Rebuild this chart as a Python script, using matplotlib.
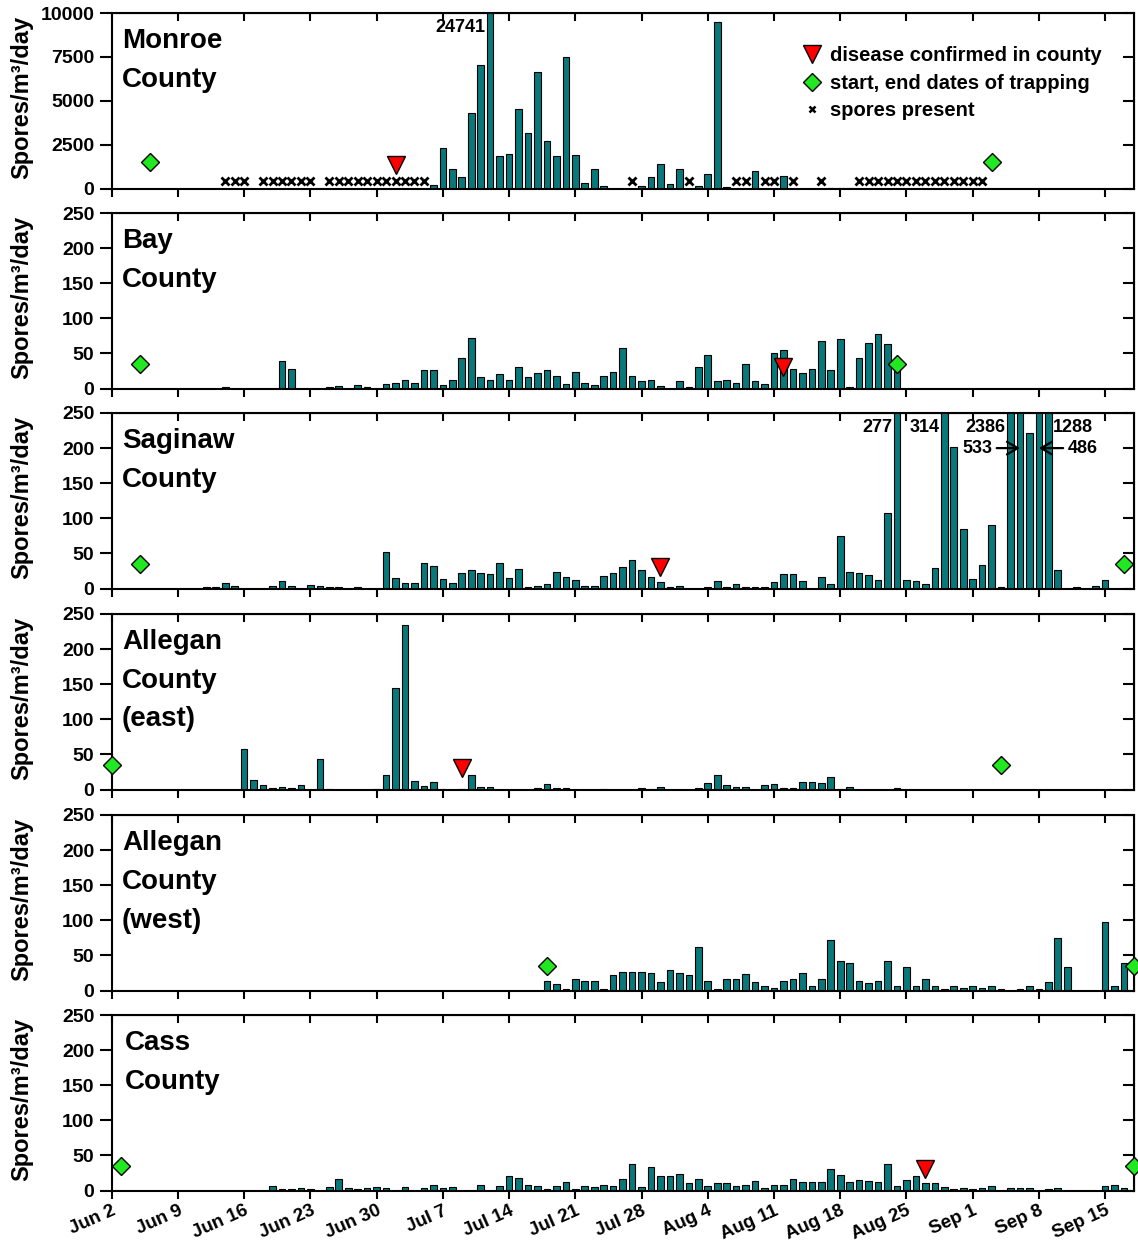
import matplotlib
matplotlib.use("Agg")
import matplotlib.pyplot as plt
from matplotlib.lines import Line2D
from matplotlib.ticker import NullFormatter

plt.rcParams['font.family'] = ['Liberation Sans', 'DejaVu Sans']
plt.rcParams['font.weight'] = 'bold'

# x axis: day number counted from Jun 2
tick_labels = ['Jun 2', 'Jun 9', 'Jun 16', 'Jun 23', 'Jun 30', 'Jul 7', 'Jul 14', 'Jul 21',
               'Jul 28', 'Aug 4', 'Aug 11', 'Aug 18', 'Aug 25', 'Sep 1', 'Sep 8', 'Sep 15']
tick_days = [7 * i for i in range(len(tick_labels))]

# Monroe County
monroe_days = [34, 35, 36, 37, 38, 39, 40, 41, 42, 43, 44, 45, 46, 47, 48, 49, 50, 51, 52,
               56, 57, 58, 59, 60, 62, 63, 64, 65, 68, 71, 76, 77, 78]
monroe_spores = [190, 2290, 1100, 670, 4290, 7010, 24741, 1870, 1940, 4530, 3180, 6610, 2700,
                 1870, 7490, 1900, 290, 1120, 130,
                 130, 670, 1390, 250, 1100, 170, 800, 9470, 60, 1010, 700, 50, 50, 50]
monroe_present = [12, 13, 14, 16, 17, 18, 19, 20, 21, 23, 24, 25, 26, 27, 28, 29, 30, 31, 32, 33,
                  55, 61, 66, 67, 69, 70, 72, 75,
                  79, 80, 81, 82, 83, 84, 85, 86, 87, 88, 89, 90, 91, 92]
monroe_trap = [4, 93]
monroe_disease = [30]

# Bay County
bay_days = [12, 18, 19, 23, 24, 26, 27, 29, 30, 31, 32, 33, 34, 35, 36, 37, 38, 39, 40, 41, 42,
            43, 44, 45, 46, 47, 48, 49, 50, 51, 52, 53, 54, 55, 56, 57, 58, 60, 61, 62, 63, 64,
            65, 66, 67, 68, 69, 70, 71, 72, 73, 74, 75, 76, 77, 78, 79, 80, 81, 82, 83]
bay_spores = [2, 39, 28, 2, 3, 5, 2, 7, 8, 12, 8, 27, 27, 5, 12, 43, 72, 17, 12, 20, 12,
              30, 17, 22, 27, 18, 7, 24, 8, 5, 18, 24, 57, 18, 10, 12, 4, 10, 2, 30, 48, 10,
              12, 8, 35, 10, 7, 50, 55, 28, 22, 28, 67, 27, 70, 2, 43, 65, 78, 64, 27]
bay_trap = [3, 83]
bay_disease = [71]

# Saginaw County
saginaw_days = [10, 11, 12, 13, 17, 18, 19, 21, 22, 23, 24, 26, 29, 30, 31, 32, 33, 34, 35, 36,
                37, 38, 39, 40, 41, 42, 43, 44, 45, 46, 47, 48, 49, 50, 51, 52, 53, 54, 55, 56,
                57, 58, 59, 60, 63, 64, 65, 66, 67, 68, 69, 70, 71, 72, 73, 75, 76, 77, 78, 79,
                80, 81, 82, 83, 84, 85, 86, 87, 88, 89, 90, 91, 92, 93, 94, 95, 96, 97, 98, 99,
                100, 102, 104, 105]
saginaw_spores = [2, 2, 8, 3, 3, 10, 4, 5, 4, 2, 2, 2, 52, 15, 8, 8, 37, 32, 13, 8,
                  22, 27, 22, 20, 37, 15, 28, 2, 4, 7, 23, 17, 12, 3, 3, 18, 22, 31, 41, 26,
                  17, 9, 2, 4, 2, 11, 2, 7, 2, 2, 2, 9, 21, 21, 11, 16, 6, 75, 24, 22,
                  19, 12, 108, 277, 12, 11, 7, 29, 314, 201, 85, 14, 34, 90, 2, 2386, 533, 222, 486, 1288,
                  27, 2, 4, 12]
saginaw_trap = [3, 107]
saginaw_disease = [58]

# Allegan County (east)
allegan_e_days = [14, 15, 16, 17, 18, 19, 20, 22, 23, 28, 29, 30, 31, 32, 33, 34, 35, 37, 38, 39,
                  40, 45, 46, 47, 48, 52, 56, 57, 58, 62, 63, 64, 65, 66, 67, 69, 70, 71, 72, 73,
                  74, 75, 76, 77, 78, 83]
allegan_e_spores = [58, 14, 7, 2, 3, 2, 7, 43, 1, 1, 20, 145, 235, 12, 5, 10, 1, 1, 20, 3,
                    3, 2, 8, 2, 2, 1, 2, 1, 4, 2, 9, 20, 6, 4, 4, 6, 8, 2, 2, 11,
                    11, 9, 18, 1, 4, 2]
allegan_e_trap = [0, 94]
allegan_e_disease = [37]

# Allegan County (west)
allegan_w_days = [46, 47, 48, 49, 50, 51, 52, 53, 54, 55, 56, 57, 58, 59, 60, 61, 62, 63, 64, 65,
                  66, 67, 68, 69, 70, 71, 72, 73, 74, 75, 76, 77, 78, 79, 80, 81, 82, 83, 84, 85,
                  86, 87, 88, 89, 90, 91, 92, 93, 94, 96, 97, 98, 99, 100, 101, 105, 106, 107]
allegan_w_spores = [13, 9, 2, 17, 13, 13, 2, 22, 26, 26, 26, 25, 12, 29, 25, 22, 62, 14, 2, 17,
                    16, 23, 12, 7, 4, 14, 17, 25, 7, 17, 72, 42, 39, 14, 10, 14, 42, 7, 33, 7,
                    17, 7, 2, 7, 3, 6, 4, 6, 2, 2, 7, 2, 12, 75, 33, 97, 7, 39]
allegan_w_trap = [46, 108]
allegan_w_disease = []

# Cass County
cass_days = [17, 18, 19, 20, 21, 23, 24, 25, 26, 27, 28, 29, 31, 33, 34, 35, 36, 39, 41, 42,
             43, 44, 45, 46, 47, 48, 49, 50, 51, 52, 53, 54, 55, 56, 57, 58, 59, 60, 61, 62,
             63, 64, 65, 66, 67, 68, 69, 70, 71, 72, 73, 74, 75, 76, 77, 78, 79, 80, 81, 82,
             83, 84, 85, 86, 87, 88, 89, 90, 91, 92, 93, 95, 96, 97, 99, 100, 105, 106, 107]
cass_spores = [7, 2, 2, 3, 2, 5, 16, 3, 2, 3, 5, 3, 5, 3, 8, 3, 5, 8, 7, 20,
               18, 8, 7, 2, 7, 12, 2, 7, 5, 8, 7, 17, 38, 5, 33, 20, 20, 23, 10, 17,
               7, 10, 10, 7, 8, 13, 3, 8, 8, 17, 12, 12, 12, 31, 22, 12, 15, 13, 12, 38,
               7, 15, 20, 10, 10, 5, 2, 3, 2, 3, 7, 3, 3, 3, 2, 3, 7, 8, 3]
cass_trap = [1, 108]
cass_disease = [86]

# off-scale values written on the Saginaw / Monroe panels: (day, where the label goes)
offscale_labels = {
    'Monroe': {40: 'left'},
    'Saginaw': {83: 'left', 88: 'left', 95: 'left', 99: 'right', 96: 'arrow_left', 98: 'arrow_right'},
}

panels = [
    ('Monroe', ['Monroe', 'County'], monroe_days, monroe_spores, monroe_trap, monroe_disease, 10000),
    ('Bay', ['Bay', 'County'], bay_days, bay_spores, bay_trap, bay_disease, 250),
    ('Saginaw', ['Saginaw', 'County'], saginaw_days, saginaw_spores, saginaw_trap, saginaw_disease, 250),
    ('AlleganE', ['Allegan', 'County', '(east)'], allegan_e_days, allegan_e_spores, allegan_e_trap,
     allegan_e_disease, 250),
    ('AlleganW', ['Allegan', 'County', '(west)'], allegan_w_days, allegan_w_spores, allegan_w_trap,
     allegan_w_disease, 250),
    ('Cass', ['Cass', 'County'], cass_days, cass_spores, cass_trap, cass_disease, 250),
]

BAR_COLOR = '#08787a'
GREEN = '#22e822'
RED = '#ff0000'

W, H = 1138, 1245
LEFT, RIGHT = 111.7, 1133.5
AX_H = 175.5
TOPS = [13, 213, 413, 614, 815, 1015]

fig = plt.figure(figsize=(W / 100, H / 100), dpi=100)

for i, (key, title, days, spores, trap, disease, ymax) in enumerate(panels):
    top_px = TOPS[i]
    ax = fig.add_axes([LEFT / W, 1 - (top_px + AX_H) / H, (RIGHT - LEFT) / W, AX_H / H])
    ax.set_xlim(0, 108)
    ax.set_ylim(0, ymax)
    yticks = [ymax * k / 5 for k in range(6)] if ymax == 250 else [0, 2500, 5000, 7500, 10000]

    ax.bar(days, spores, width=0.7, color=BAR_COLOR, edgecolor='black', linewidth=0.8, zorder=2)

    diamond_y = 0.15 * ymax if ymax > 250 else 35
    tri_y = 0.135 * ymax if ymax > 250 else 31
    ax.plot(trap, [diamond_y] * len(trap), 'D', ms=9.5, mfc=GREEN, mec='black', mew=1.0,
            ls='none', clip_on=False, zorder=6)
    if disease:
        ax.plot(disease, [tri_y] * len(disease), 'v', ms=13, mfc=RED, mec='black', mew=1.0,
                ls='none', zorder=6)
    if key == 'Monroe':
        ax.plot(monroe_present, [400] * len(monroe_present), 'x', color='black', ms=5.5,
                mew=2.0, ls='none', zorder=5)

    # off-scale bar values
    for d, where in offscale_labels.get(key, {}).items():
        val = spores[days.index(d)]
        if where == 'left':
            ax.text(d - 0.5, 0.92 * ymax, str(val), ha='right', va='center', fontsize=13,
                    fontweight='bold', zorder=7)
        elif where == 'right':
            ax.text(d + 0.5, 0.92 * ymax, str(val), ha='left', va='center', fontsize=13,
                    fontweight='bold', zorder=7)
        elif where == 'arrow_left':
            ax.annotate(str(val), xy=(d, 0.8 * ymax), xytext=(d - 2.9, 0.8 * ymax),
                        ha='right', va='center', fontsize=13, fontweight='bold', zorder=7,
                        arrowprops=dict(arrowstyle='->, head_length=0.6, head_width=0.35',
                                        lw=1.6, color='black', shrinkA=1, shrinkB=0))
        else:
            ax.annotate(str(val), xy=(d, 0.8 * ymax), xytext=(d + 3.0, 0.8 * ymax),
                        ha='left', va='center', fontsize=13, fontweight='bold', zorder=7,
                        arrowprops=dict(arrowstyle='->, head_length=0.6, head_width=0.35',
                                        lw=1.6, color='black', shrinkA=1, shrinkB=0))

    # county name
    tx = 0.013 if key == 'Cass' else 0.010
    for j, line in enumerate(title):
        ax.text(tx, 1 - (35.5 + 38.5 * j) / AX_H, line, transform=ax.transAxes,
                fontsize=20, fontweight='bold', ha='left', va='baseline', zorder=8)

    # ticks: outward on bottom/left, inward on top/right
    ax.set_xticks(tick_days)
    ax.set_yticks(yticks)
    ax.set_yticklabels([str(int(v)) for v in yticks])
    ax.tick_params(axis='x', direction='out', length=6, width=1.5, pad=2.5, labelsize=13.5)
    ax.tick_params(axis='y', direction='out', length=8.5, width=1.5, pad=4, labelsize=14)
    if key == 'Cass':
        ax.set_xticklabels(tick_labels, rotation=24, ha='right', va='top',
                           rotation_mode='anchor', fontweight='bold')
    else:
        ax.tick_params(axis='x', labelbottom=False)
    for sp in ax.spines.values():
        sp.set_linewidth(1.5)

    top_ax = ax.secondary_xaxis('top')
    top_ax.set_xticks(tick_days)
    top_ax.xaxis.set_major_formatter(NullFormatter())
    top_ax.tick_params(direction='in', length=6, width=1.5)
    right_ax = ax.secondary_yaxis('right')
    right_ax.set_yticks(yticks)
    right_ax.yaxis.set_major_formatter(NullFormatter())
    right_ax.tick_params(direction='in', length=8, width=1.5)

    ax.set_ylabel('Spores/m\u00b3/day', fontsize=17, fontweight='bold')
    ax.yaxis.set_label_coords(-0.077, 0.52)

    if key == 'Monroe':
        handles = [
            Line2D([], [], marker='v', ls='none', ms=13, mfc=RED, mec='black', mew=1.0),
            Line2D([], [], marker='D', ls='none', ms=9.5, mfc=GREEN, mec='black', mew=1.0),
            Line2D([], [], marker='x', ls='none', ms=5, color='black', mew=1.8),
        ]
        ax.legend(handles, ['disease confirmed in county', 'start, end dates of trapping',
                            'spores present'],
                  loc='upper left', bbox_to_anchor=(0.6766, 0.81), frameon=False,
                  borderpad=0, borderaxespad=0, handlelength=0.9, handletextpad=0.45,
                  labelspacing=0.42, numpoints=1, prop={'size': 14.5, 'weight': 'bold'})

fig.savefig('out.png', dpi=100)
